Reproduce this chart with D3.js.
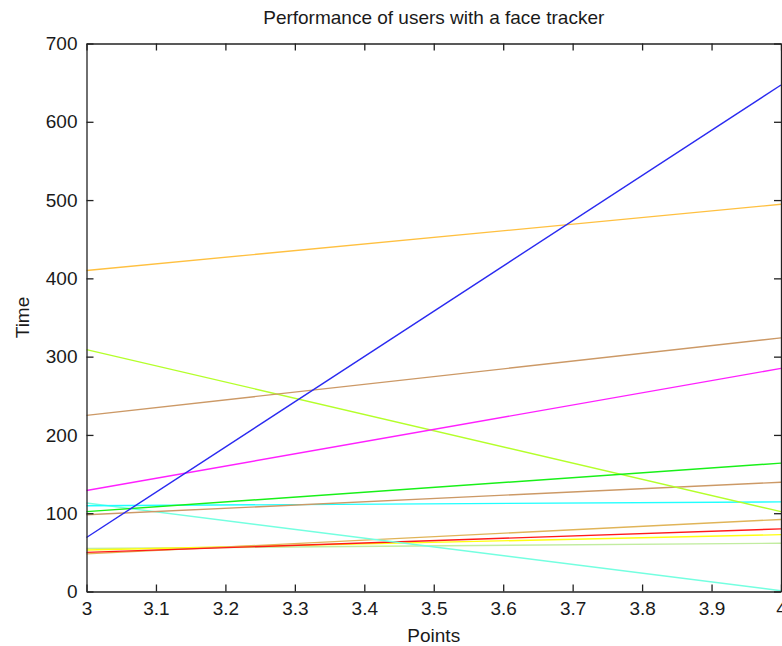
<!DOCTYPE html>
<html>
<head>
<meta charset="utf-8">
<script src="https://cdn.jsdelivr.net/npm/d3@7/dist/d3.min.js"></script>
<style>
  body { margin: 0; background: #fff; }
  svg { display: block; }
  text { font-family: Arial, "Liberation Sans", sans-serif; fill: #1a1a1a; }
</style>
</head>
<body>
<svg id="chart" width="782" height="646"></svg>
<script>
(function() {

  // x positions of the two points of every line
  var points = [3, 4];

  // time at point 3 and at point 4, one entry per user (drawing order)
  var timeStart = [55, 53, 48, 50, 113, 109.5, 98, 309, 102, 129, 225, 410, 69];
  var timeEnd   = [61.6, 72.6, 92, 80, 1, 114.5, 139.6, 102, 164, 285, 324, 494.6, 647];

  var lineColors = ['#c2eca0', '#ffff10', '#e0b458', '#ff1a1a', '#74ffe0', '#20ffff',
                    '#cc9966', '#b4ff2a', '#18f018', '#ff20ff', '#cc9966', '#ffc040', '#2a2af0'];

  var xTicks = [3, 3.1, 3.2, 3.3, 3.4, 3.5, 3.6, 3.7, 3.8, 3.9, 4];
  var yTicks = [0, 100, 200, 300, 400, 500, 600, 700];

  var svg = d3.select('#chart');
  var left = 86.5, right = 781, top = 43.5, bottom = 591.5;

  var x = d3.scaleLinear().domain([3, 4]).range([left, right]);
  var y = d3.scaleLinear().domain([0, 700]).range([bottom, top]);

  // one line per user
  var lineGen = d3.line()
    .x(function(d) { return x(d[0]); })
    .y(function(d) { return y(d[1]); });

  var series = timeStart.map(function(v, i) {
    return [[points[0], v], [points[1], timeEnd[i]]];
  });

  svg.append('g').selectAll('path')
    .data(series)
    .enter().append('path')
    .attr('d', lineGen)
    .attr('fill', 'none')
    .attr('stroke', function(d, i) { return lineColors[i]; })
    .attr('stroke-width', 1.4);

  // axes, ticks pointing inwards on all four sides
  var axisColor = '#222';
  var tickLen = 7;

  var bottomAxis = svg.append('g')
    .attr('transform', 'translate(0,' + bottom + ')')
    .call(d3.axisBottom(x).tickValues(xTicks).tickSizeInner(-tickLen).tickSizeOuter(0)
      .tickFormat(d3.format('')));
  bottomAxis.selectAll('text').attr('y', 10).attr('dy', '0.71em');

  var topAxis = svg.append('g')
    .attr('transform', 'translate(0,' + top + ')')
    .call(d3.axisTop(x).tickValues(xTicks).tickSizeInner(-tickLen).tickSizeOuter(0)
      .tickFormat(''));

  var leftAxis = svg.append('g')
    .attr('transform', 'translate(' + left + ',0)')
    .call(d3.axisLeft(y).tickValues(yTicks).tickSizeInner(-tickLen).tickSizeOuter(0));
  leftAxis.selectAll('text').attr('x', -9);

  var rightAxis = svg.append('g')
    .attr('transform', 'translate(' + right + ',0)')
    .call(d3.axisRight(y).tickValues(yTicks).tickSizeInner(-tickLen).tickSizeOuter(0)
      .tickFormat(''));

  [bottomAxis, topAxis, leftAxis, rightAxis].forEach(function(g) {
    g.select('.domain').attr('stroke', axisColor).attr('stroke-width', 1.3);
    g.selectAll('.tick line').attr('stroke', axisColor).attr('stroke-width', 1.3);
    g.selectAll('text')
      .attr('fill', '#1a1a1a')
      .style('font-size', '19px')
      .style('font-family', 'Arial, "Liberation Sans", sans-serif');
  });

  // titles
  svg.append('text')
    .attr('x', (left + right) / 2)
    .attr('y', 24)
    .attr('text-anchor', 'middle')
    .style('font-size', '19px')
    .text('Performance of users with a face tracker');

  svg.append('text')
    .attr('x', (left + right) / 2)
    .attr('y', 642)
    .attr('text-anchor', 'middle')
    .style('font-size', '19px')
    .text('Points');

  svg.append('text')
    .attr('transform', 'translate(29,' + (top + bottom) / 2 + ') rotate(-90)')
    .attr('text-anchor', 'middle')
    .style('font-size', '19px')
    .text('Time');

})();
</script>
</body>
</html>
